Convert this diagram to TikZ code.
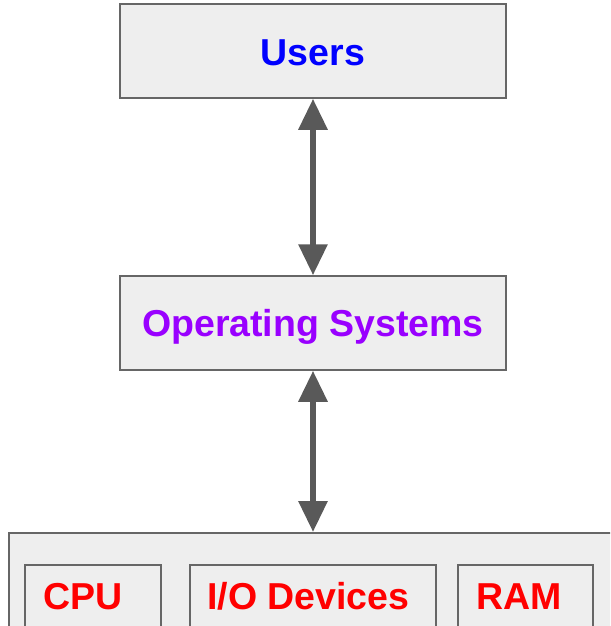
\documentclass[tikz,border=0pt]{standalone}
\usepackage{fontspec}
\setmainfont{Liberation Sans}
\usetikzlibrary{arrows.meta}
\definecolor{boxfill}{HTML}{EEEEEE}
\definecolor{boxline}{HTML}{666666}
\definecolor{arrowgray}{HTML}{595959}
\definecolor{userblue}{HTML}{0000FF}
\definecolor{ospurple}{HTML}{9900FF}
\definecolor{hwred}{HTML}{FF0000}
\begin{document}
\begin{tikzpicture}[x=1pt,y=-1pt,
  bigfont/.style={font=\fontsize{37.5}{42}\selectfont\bfseries},
  frame/.style={draw=boxline, fill=boxfill, line width=1.5pt, inner sep=0pt},
  layerbox/.style={frame, minimum width=386pt, minimum height=94pt},
  hwbox/.style={frame, anchor=north west, minimum height=84pt},
  label/.style={bigfont, inner sep=0pt, text height=27pt, text depth=0pt},
  dblarrow/.style={draw=arrowgray, line width=6pt,
    {Triangle[width=28pt,length=31pt]}-{Triangle[width=28pt,length=31pt]}}]
  \useasboundingbox (0,0) rectangle (610,626);
  \clip (0,0) rectangle (610,626);

  % layers
  \node[layerbox] (users) at (313,51) {};
  \node[label, text=userblue] (userstxt) at (313,52) {Users};
  \node[layerbox] (os) at (313,323) {};
  \node[label, text=ospurple] (ostxt) at (313,323) {Operating Systems};

  % hardware layer and its parts
  \node[frame, anchor=north west, minimum width=640pt, minimum height=140pt] (hw) at (8,532) {};
  \node[hwbox, minimum width=136pt] (cpu) at (24,564) {};
  \node[hwbox, minimum width=246pt] (io) at (189,564) {};
  \node[hwbox, minimum width=135pt] (ram) at (457,564) {};
  \node[label, text=hwred, anchor=west] (cputxt) at (43.5,595.5) {CPU};
  \node[label, text=hwred, anchor=west] (iotxt) at (207,595.5) {I/O Devices};
  \node[label, text=hwred, anchor=west] (ramtxt) at (476,595.5) {RAM};

  % connectors
  \coordinate (hwtop) at (313,532);
  \draw[dblarrow] (users.south) -- (os.north);
  \draw[dblarrow] (os.south) -- (hwtop);
\end{tikzpicture}
\end{document}
